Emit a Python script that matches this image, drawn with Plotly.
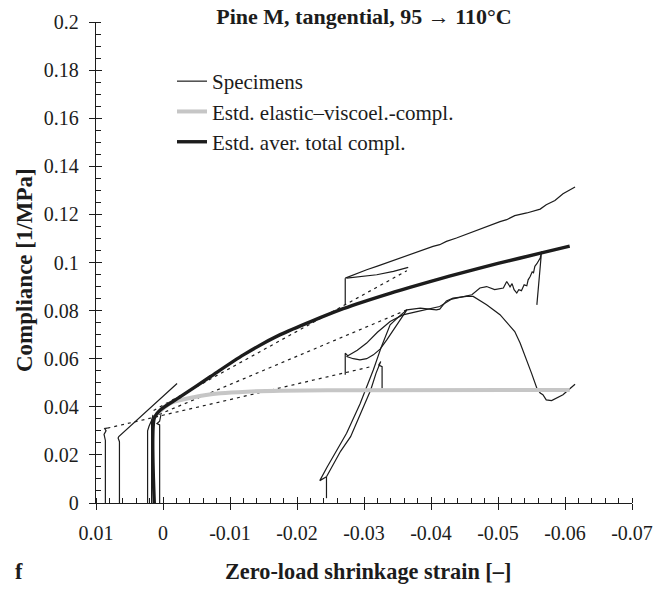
import plotly.graph_objects as go

SERIF = "Liberation Serif, Times New Roman, serif"
INK = "#1c1c1c"
GREY = "#c6c6c6"

# ---- axis ticks ----
x_tick_vals = [0.01, 0.0, -0.01, -0.02, -0.03, -0.04, -0.05, -0.06, -0.07]
x_tick_text = ["0.01", "0", "-0.01", "-0.02", "-0.03", "-0.04", "-0.05", "-0.06", "-0.07"]
y_tick_vals = [0.0, 0.02, 0.04, 0.06, 0.08, 0.1, 0.12, 0.14, 0.16, 0.18, 0.2]
y_tick_text = ["0", "0.02", "0.04", "0.06", "0.08", "0.1", "0.12", "0.14", "0.16", "0.18", "0.2"]

# ---- estimated curves ----
total_x = [0.0013, 0.0013, 0.0004, -0.0026, -0.0071, -0.0120, -0.0175, -0.0269,
           -0.0340, -0.0413, -0.0443, -0.0500, -0.0565, -0.0607]
total_y = [0.0, 0.0353, 0.0387, 0.0442, 0.0526, 0.0616, 0.0700, 0.0808,
           0.0873, 0.0932, 0.0955, 0.0996, 0.1040, 0.1068]

elastic_x = [0.0010, -0.0011, -0.0046, -0.0086, -0.0125, -0.0175, -0.0300, -0.0607]
elastic_y = [0.0368, 0.0415, 0.0440, 0.0456, 0.0463, 0.0467, 0.0469, 0.0470]

# ---- specimens: 95 degC stage (near zero shrinkage) ----
spec_a_x = [0.0086, 0.0086, 0.0088, 0.0085, 0.0087, 0.0083]
spec_a_y = [0.0, 0.0260, 0.0285, 0.0300, 0.0310, 0.0311]
spec_b_x = [0.0065, 0.0065, 0.0067, 0.0066, -0.0021]
spec_b_y = [0.0, 0.0255, 0.0270, 0.0276, 0.0497]
spec_c_x = [0.0023, 0.0023, 0.0021, 0.0016]
spec_c_y = [0.0, 0.0300, 0.0318, 0.0350]
spec_d_x = [0.0017, 0.0017, 0.0015]
spec_d_y = [0.0, 0.0340, 0.0366]
spec_e_x = [0.0005, 0.0005, 0.0009, 0.0005, 0.0003]
spec_e_y = [0.0, 0.0325, 0.0330, 0.0340, 0.0368]

# ---- transitions between stages (dashed) ----
link1_x = [0.0014, -0.0364]
link1_y = [0.0385, 0.0966]
link2_x = [0.0006, -0.0364]
link2_y = [0.0368, 0.0803]
link3_x = [0.0083, -0.0309]
link3_y = [0.0311, 0.0566]

# ---- specimens: 110 degC stage ----
top_step_x = [-0.0272, -0.0272]
top_step_y = [0.0824, 0.0935]
top_curve_x = [-0.0272, -0.0285, -0.0304, -0.0320, -0.0339, -0.0356, -0.0374, -0.0403,
               -0.0413, -0.0423, -0.0438, -0.0463, -0.0488, -0.0503, -0.0513, -0.0525,
               -0.0543, -0.0563, -0.0572, -0.0585, -0.0597, -0.0607, -0.0615]
top_curve_y = [0.0935, 0.0950, 0.0970, 0.0985, 0.1004, 0.1022, 0.1039, 0.1067,
               0.1074, 0.1088, 0.1102, 0.1129, 0.1157, 0.1170, 0.1178, 0.1195,
               0.1206, 0.1222, 0.1240, 0.1258, 0.1286, 0.1300, 0.1314]
top_inner_x = [-0.0274, -0.0290, -0.0319, -0.0344, -0.0366]
top_inner_y = [0.0935, 0.0940, 0.0949, 0.0963, 0.0980]

mid_step_x = [-0.0272, -0.0272, -0.0276]
mid_step_y = [0.0533, 0.0623, 0.0612]
mid_upper_x = [-0.0274, -0.0290, -0.0304, -0.0320, -0.0339, -0.0358, -0.0379, -0.0413,
               -0.0431, -0.0443, -0.0461, -0.0473, -0.0483, -0.0495, -0.0508, -0.0513,
               -0.0518, -0.0521, -0.0524, -0.0528, -0.0531, -0.0535, -0.0539, -0.0543,
               -0.0545, -0.0548, -0.0551, -0.0553, -0.0555, -0.0558, -0.0560, -0.0563,
               -0.0565, -0.0558]
mid_upper_y = [0.0609, 0.0635, 0.0665, 0.0710, 0.0755, 0.0782, 0.0796, 0.0817,
               0.0848, 0.0855, 0.0866, 0.0894, 0.0900, 0.0887, 0.0894, 0.0921,
               0.0899, 0.0912, 0.0887, 0.0873, 0.0887, 0.0883, 0.0907, 0.0903,
               0.0928, 0.0942, 0.0961, 0.0957, 0.0984, 0.0995, 0.1007, 0.1019,
               0.1046, 0.0824]
mid_lower_x = [-0.0274, -0.0284, -0.0294, -0.0304, -0.0314, -0.0324, -0.0334, -0.0349, -0.0364]
mid_lower_y = [0.0609, 0.0600, 0.0595, 0.0600, 0.0616, 0.0640, 0.0678, 0.0740, 0.0803]

loop_step_x = [-0.0244, -0.0244]
loop_step_y = [0.0020, 0.0109]
loop_right_x = [-0.0244, -0.0252, -0.0265, -0.0280, -0.0290, -0.0300, -0.0310,
                -0.0318, -0.0325, -0.0322, -0.0327, -0.0327]
loop_right_y = [0.0109, 0.0150, 0.0215, 0.0276, 0.0340, 0.0401, 0.0470,
                0.0540, 0.0588, 0.0574, 0.0567, 0.0477]
loop_left_x = [-0.0244, -0.0234, -0.0245, -0.0260, -0.0274, -0.0294, -0.0314, -0.0326,
               -0.0339, -0.0352, -0.0364, -0.0384, -0.0408, -0.0413, -0.0423, -0.0433,
               -0.0453, -0.0463, -0.0483, -0.0503, -0.0518, -0.0525, -0.0533, -0.0543,
               -0.0550, -0.0558, -0.0563, -0.0567, -0.0572, -0.0580, -0.0587, -0.0597,
               -0.0605, -0.0615]
loop_left_y = [0.0109, 0.0093, 0.0150, 0.0220, 0.0290, 0.0412, 0.0554, 0.0650,
               0.0741, 0.0775, 0.0803, 0.0810, 0.0803, 0.0806, 0.0840, 0.0852,
               0.0859, 0.0859, 0.0824, 0.0783, 0.0734, 0.0713, 0.0665, 0.0595,
               0.0540, 0.0477, 0.0457, 0.0450, 0.0429, 0.0426, 0.0436, 0.0450,
               0.0470, 0.0494]

fig = go.Figure()


def add_line(xs, ys, color=INK, width=1.2, dash=None, shape="linear",
             name=None, legend=False, rank=None):
    fig.add_trace(go.Scatter(
        x=xs, y=ys, mode="lines",
        line=dict(color=color, width=width, dash=dash, shape=shape,
                  smoothing=0.7 if shape == "spline" else None),
        name=name, showlegend=legend, legendrank=rank,
        hoverinfo="skip",
    ))


# dashed transitions
for lx, ly in [(link1_x, link1_y), (link2_x, link2_y), (link3_x, link3_y)]:
    add_line(lx, ly, width=1.2, dash="3px,4px")

# specimen records
add_line(spec_a_x, spec_a_y, name="Specimens", legend=True, rank=1)
for sx, sy in [(spec_b_x, spec_b_y), (spec_c_x, spec_c_y), (spec_d_x, spec_d_y),
               (spec_e_x, spec_e_y), (top_step_x, top_step_y), (top_curve_x, top_curve_y),
               (top_inner_x, top_inner_y), (mid_step_x, mid_step_y),
               (mid_upper_x, mid_upper_y), (mid_lower_x, mid_lower_y),
               (loop_step_x, loop_step_y), (loop_right_x, loop_right_y),
               (loop_left_x, loop_left_y)]:
    add_line(sx, sy)

# estimated compliances
add_line(elastic_x, elastic_y, color=GREY, width=4, shape="spline",
         name="Estd. elastic\u2013viscoel.-compl.", legend=True, rank=2)
add_line(total_x, total_y, color=INK, width=3.4, shape="spline",
         name="Estd. aver. total compl.", legend=True, rank=3)

# carrier for the inner half of the major tick marks
fig.add_trace(go.Scatter(x=[None], y=[None], xaxis="x2", yaxis="y2",
                         mode="lines", showlegend=False, hoverinfo="skip"))

tick_font = dict(family=SERIF, size=20, color=INK)
common = dict(showgrid=False, zeroline=False, automargin=False)
bold = dict(family=SERIF, color=INK, weight="bold")

fig.update_layout(
    width=670, height=589,
    margin=dict(l=96, r=38, t=22, b=86),
    paper_bgcolor="white", plot_bgcolor="white",
    font=dict(family=SERIF, color=INK),
    title=dict(text="Pine M, tangential, 95 \u2192 110\u00b0C",
               font=dict(size=22, **bold),
               x=0.5, xref="paper", xanchor="center",
               y=1 - 16 / 589, yref="container", yanchor="middle"),
    xaxis=dict(range=[0.01, -0.07], tickmode="array", tickvals=x_tick_vals,
               ticktext=x_tick_text, ticks="outside", ticklen=6, tickwidth=1.3,
               tickcolor=INK, showline=True, linecolor=INK, linewidth=1.4,
               tickfont=tick_font, ticklabelstandoff=6,
               minor=dict(ticks="inside", ticklen=4.5, tickwidth=1.1, tickcolor=INK,
                          tickmode="linear", tick0=0, dtick=0.002, showgrid=False),
               **common),
    yaxis=dict(range=[0, 0.2], tickmode="array", tickvals=y_tick_vals,
               ticktext=y_tick_text, ticks="outside", ticklen=6, tickwidth=1.3,
               tickcolor=INK, showline=True, linecolor=INK, linewidth=1.4,
               tickfont=tick_font, ticklabelstandoff=6,
               minor=dict(ticks="inside", ticklen=4.5, tickwidth=1.1, tickcolor=INK,
                          tickmode="linear", tick0=0, dtick=0.005, showgrid=False),
               **common),
    xaxis2=dict(range=[0.01, -0.07], overlaying="x", anchor="y2", side="bottom",
                tickmode="array", tickvals=x_tick_vals, ticks="inside", ticklen=6,
                tickwidth=1.3, tickcolor=INK, showticklabels=False, showline=False,
                **common),
    yaxis2=dict(range=[0, 0.2], overlaying="y", anchor="x2", side="left",
                tickmode="array", tickvals=y_tick_vals, ticks="inside", ticklen=6,
                tickwidth=1.3, tickcolor=INK, showticklabels=False, showline=False,
                **common),
    legend=dict(x=(172 - 96) / 536, y=(503 - 61) / 481, xanchor="left", yanchor="top",
                font=dict(family=SERIF, size=21, color=INK), bgcolor="rgba(0,0,0,0)",
                traceorder="normal", itemwidth=30),
    annotations=[
        dict(text="Compliance [1/MPa]", textangle=-90, x=(24 - 96) / 536,
             y=(503 - 270) / 481, xref="paper", yref="paper",
             xanchor="center", yanchor="middle",
             showarrow=False, font=dict(size=23, **bold)),
        dict(text="Zero-load shrinkage strain [\u2013]", x=(368 - 96) / 536,
             y=(503 - 571) / 481, xref="paper", yref="paper",
             xanchor="center", yanchor="middle",
             showarrow=False, font=dict(size=22.3, **bold)),
        dict(text="f", x=(19 - 96) / 536, y=(503 - 571) / 481,
             xref="paper", yref="paper", xanchor="center", yanchor="middle",
             showarrow=False, font=dict(size=22.3, **bold)),
    ],
)

fig.write_html("out.html")
